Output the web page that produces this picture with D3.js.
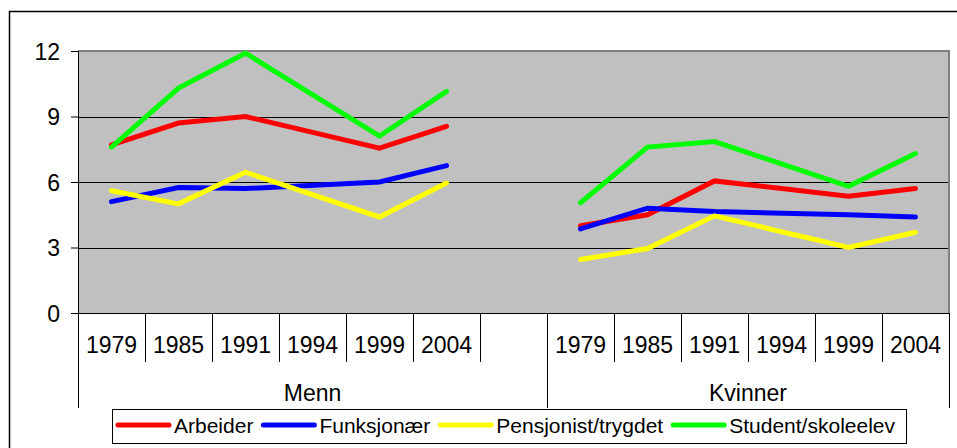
<!DOCTYPE html>
<html>
<head>
<meta charset="utf-8">
<script src="https://cdn.jsdelivr.net/npm/d3@7"></script>
<style>
  body { margin: 0; background: #fff; }
  text { font-family: "Liberation Sans", Arial, sans-serif; fill: #000; }
</style>
</head>
<body>
<svg id="chart" width="957" height="448"></svg>
<script>
// Kategorier
const groups = ["Menn", "Kvinner"];
const years = ["1979", "1985", "1991", "1994", "1999", "2004"];
const yTicks = [0, 3, 6, 9, 12];

// Serier (1994 mangler)
const seriesNames = ["Arbeider", "Funksjonær", "Pensjonist/trygdet", "Student/skoleelev"];
const seriesColors = ["#ff0000", "#0000ff", "#ffff00", "#00ff00"];

const arbeiderMenn = [7.7, 8.7, 9.0, null, 7.55, 8.55];
const arbeiderKvinner = [4.0, 4.5, 6.05, null, 5.35, 5.7];
const funksjonaerMenn = [5.1, 5.75, 5.7, null, 6.0, 6.75];
const funksjonaerKvinner = [3.85, 4.8, 4.65, null, 4.5, 4.4];
const pensjonistMenn = [5.6, 5.0, 6.45, null, 4.4, 5.95];
const pensjonistKvinner = [2.45, 2.95, 4.45, null, 3.0, 3.7];
const studentMenn = [7.6, 10.3, 11.9, null, 8.1, 10.15];
const studentKvinner = [5.05, 7.6, 7.85, null, 5.8, 7.3];

const seriesValues = [
  { Menn: arbeiderMenn, Kvinner: arbeiderKvinner },
  { Menn: funksjonaerMenn, Kvinner: funksjonaerKvinner },
  { Menn: pensjonistMenn, Kvinner: pensjonistKvinner },
  { Menn: studentMenn, Kvinner: studentKvinner },
];

// Dimensjoner
const plot = { left: 78, right: 949, top: 51, bottom: 313 };

// Kategoriakse: Menn-år, en tom plass, Kvinner-år
const slots = [];
years.forEach((y) => slots.push("Menn|" + y));
slots.push("gap");
years.forEach((y) => slots.push("Kvinner|" + y));

const xScale = d3.scaleBand().domain(slots).range([plot.left, plot.right]).padding(0);
const yScale = d3.scaleLinear().domain([0, 12]).range([plot.bottom, plot.top]);

const svg = d3.select("#chart");

// Ytre ramme
svg.append("rect")
  .attr("x", 9.5).attr("y", 11.5)
  .attr("width", 970).attr("height", 460)
  .attr("fill", "#fff").attr("stroke", "#000").attr("stroke-width", 1.5);

// Plottområde
svg.append("rect")
  .attr("x", plot.left).attr("y", plot.top)
  .attr("width", plot.right - plot.left).attr("height", plot.bottom - plot.top)
  .attr("fill", "#c0c0c0");

// Rutenett
svg.append("g")
  .selectAll("line")
  .data(yTicks.filter((d) => d > 0 && d < 12))
  .enter()
  .append("line")
  .attr("x1", plot.left).attr("x2", plot.right)
  .attr("y1", (d) => Math.round(yScale(d)) + 0.5)
  .attr("y2", (d) => Math.round(yScale(d)) + 0.5)
  .attr("stroke", "#000").attr("stroke-width", 1);

// Kant topp og høyre
svg.append("path")
  .attr("d", `M${plot.left},${plot.top} H${plot.right} V${plot.bottom}`)
  .attr("fill", "none").attr("stroke", "#808080").attr("stroke-width", 2);

// Y-akse
const yAxis = svg.append("g")
  .attr("transform", `translate(${plot.left},0)`)
  .call(d3.axisLeft(yScale).tickValues(yTicks).tickSize(7).tickPadding(11));
yAxis.select(".domain").attr("stroke", "#000");
yAxis.selectAll(".tick line").attr("stroke", "#000");
yAxis.selectAll(".tick text")
  .attr("dy", "0.35em")
  .style("font-size", "23px")
  .style("font-family", "'Liberation Sans', Arial, sans-serif")
  .attr("fill", "#000");

// X-akse linje
svg.append("line")
  .attr("x1", plot.left).attr("x2", plot.right)
  .attr("y1", plot.bottom + 0.5).attr("y2", plot.bottom + 0.5)
  .attr("stroke", "#000");

// Skillestreker mellom år
const boundaries = slots.map((s) => xScale(s)).concat([plot.right]);
const groupEdges = [plot.left, xScale("Kvinner|" + years[0]), plot.right];

svg.append("g")
  .selectAll("line")
  .data(boundaries)
  .enter()
  .append("line")
  .attr("x1", (d) => Math.round(d) + 0.5)
  .attr("x2", (d) => Math.round(d) + 0.5)
  .attr("y1", plot.bottom)
  .attr("y2", (d) => (groupEdges.some((g) => Math.abs(g - d) < 1) ? 408 : 362))
  .attr("stroke", "#000");

// Årstall
svg.append("g")
  .selectAll("text")
  .data(slots.filter((s) => s !== "gap"))
  .enter()
  .append("text")
  .attr("x", (d) => xScale(d) + xScale.bandwidth() / 2)
  .attr("y", 353)
  .attr("text-anchor", "middle")
  .style("font-size", "23px")
  .text((d) => d.split("|")[1]);

// Gruppenavn
svg.append("g")
  .selectAll("text")
  .data(groups)
  .enter()
  .append("text")
  .attr("x", (d, i) => (groupEdges[i] + groupEdges[i + 1]) / 2)
  .attr("y", 401)
  .attr("text-anchor", "middle")
  .style("font-size", "23px")
  .text((d) => d);

// Linjer
const line = d3.line()
  .x((d) => xScale(d.key) + xScale.bandwidth() / 2)
  .y((d) => yScale(d.value));

seriesValues.forEach((s, i) => {
  groups.forEach((g) => {
    const pts = years
      .map((y, j) => ({ key: g + "|" + y, value: s[g][j] }))
      .filter((d) => d.value != null);
    svg.append("path")
      .datum(pts)
      .attr("d", line)
      .attr("fill", "none")
      .attr("stroke", seriesColors[i])
      .attr("stroke-width", 5)
      .attr("stroke-linecap", "round")
      .attr("stroke-linejoin", "miter");
  });
});

// Forklaring
const legend = svg.append("g");
const legendBox = legend.append("rect")
  .attr("fill", "#fff").attr("stroke", "#000").attr("stroke-width", 1);
let lx = 118;
seriesNames.forEach((name, i) => {
  legend.append("line")
    .attr("x1", lx).attr("x2", lx + 51)
    .attr("y1", 425).attr("y2", 425)
    .attr("stroke", seriesColors[i]).attr("stroke-width", 5)
    .attr("stroke-linecap", "round");
  const t = legend.append("text")
    .attr("x", lx + 56).attr("y", 433)
    .style("font-size", "21px")
    .text(name);
  lx += 56 + t.node().getComputedTextLength() + 10;
});
legendBox
  .attr("x", 112.5).attr("y", 409.5)
  .attr("width", lx + 1 - 112).attr("height", 34);
</script>
</body>
</html>
